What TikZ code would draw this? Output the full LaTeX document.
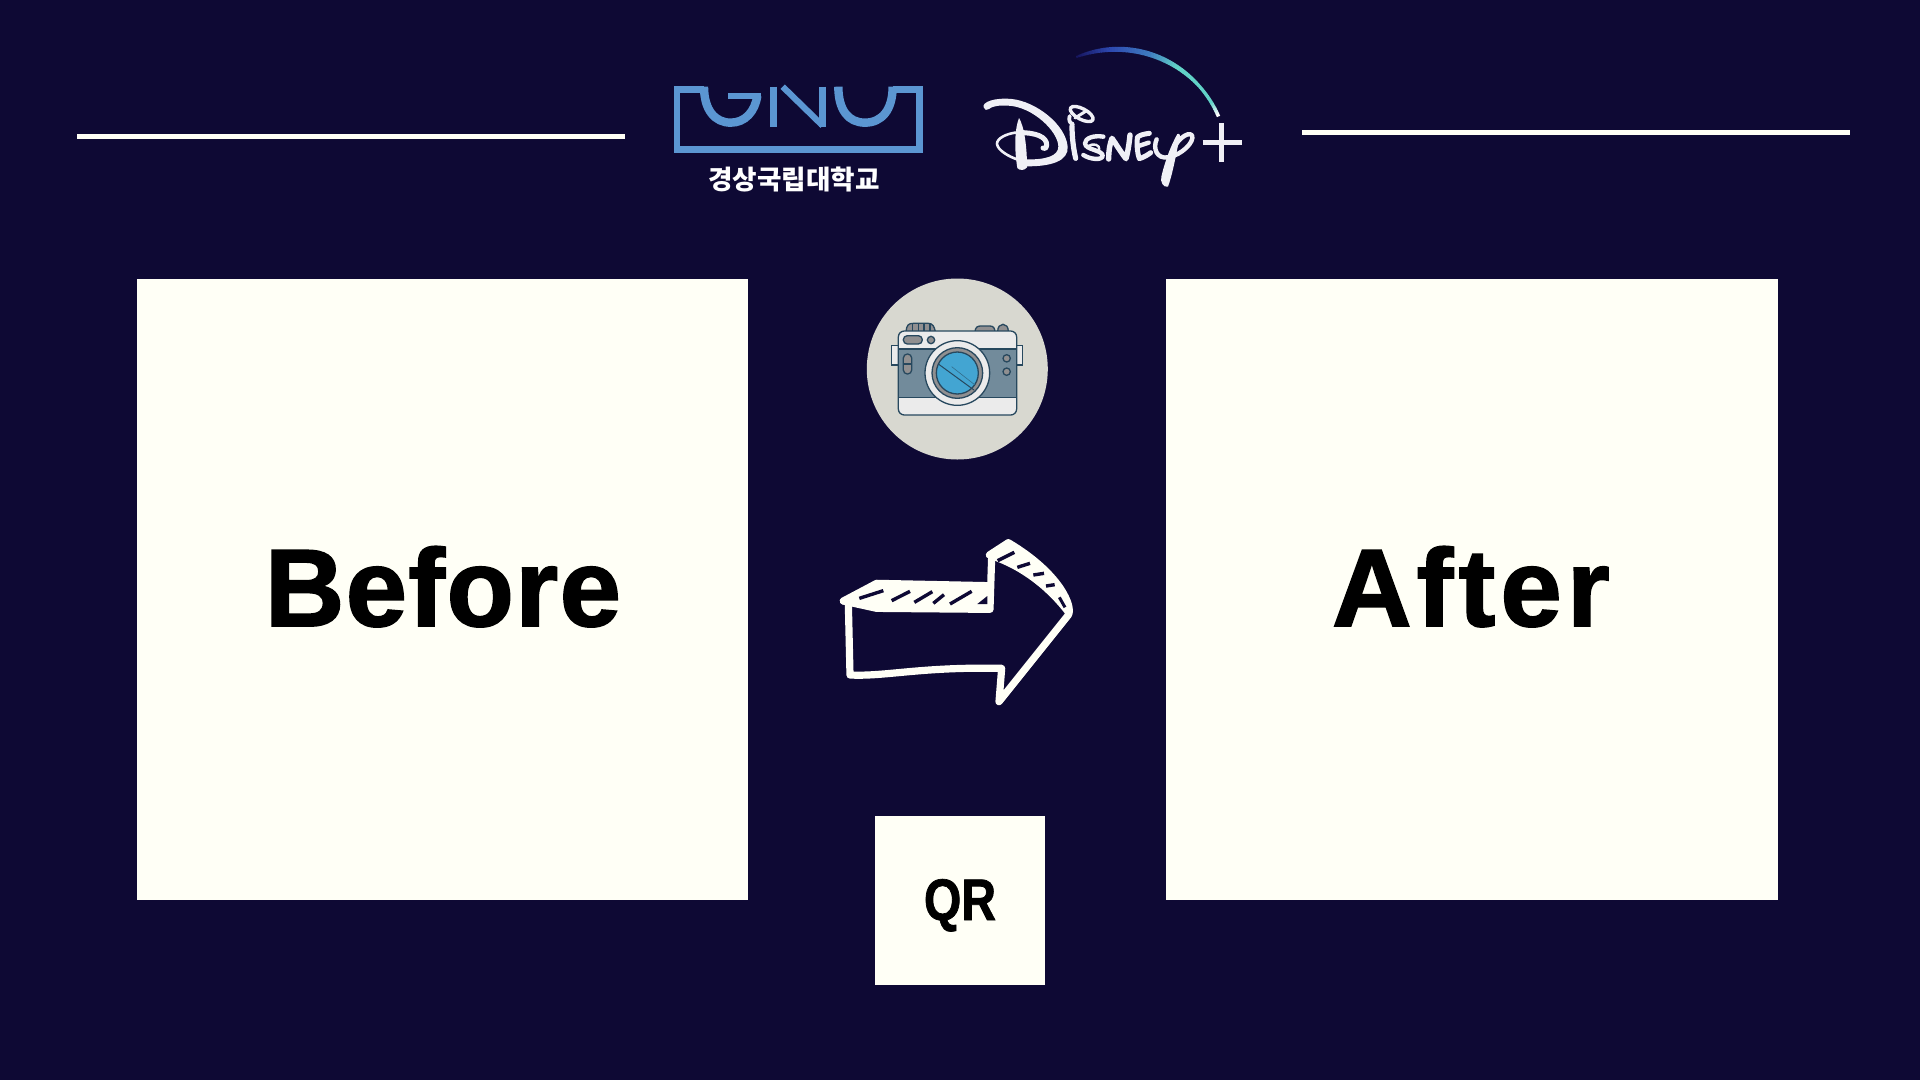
\documentclass[tikz,border=0pt]{standalone}
\usepackage{fontspec}
\setmainfont{Liberation Sans}
\newfontfamily\krfont{Noto Sans CJK KR}
\newfontfamily\beforefont{Liberation Sans}[LetterSpace=1.4,BoldFeatures={FakeBold=1.6}]
\newfontfamily\afterfont{Liberation Sans}[LetterSpace=4.8,BoldFeatures={FakeBold=1.6}]
\newfontfamily\qrfont{Liberation Sans}[FakeStretch=0.82,BoldFeatures={FakeBold=1.2}]
\definecolor{bgc}{HTML}{0E0934}
\definecolor{paper}{HTML}{FFFFF6}
\definecolor{gnublue}{HTML}{5B96D2}
\definecolor{dis}{HTML}{F0F0F6}
\definecolor{camline}{HTML}{27485E}
\definecolor{camgray}{HTML}{908F90}
\definecolor{camband}{HTML}{728B9B}
\definecolor{camwhite}{HTML}{EBEBEB}
\definecolor{camblue}{HTML}{43A5D2}
\definecolor{circ}{HTML}{D8D8D0}
\definecolor{arcA}{HTML}{171660}
\definecolor{arcB}{HTML}{2D48B0}
\definecolor{arcC}{HTML}{3F7CC0}
\definecolor{arcD}{HTML}{62D3C8}
\tikzset{
  card/.style={fill=paper,draw=none,inner sep=0pt,outer sep=0pt},
  rulewhite/.style={draw=paper,line width=4.6pt},
  gnu/.style={draw=gnublue,line width=6.4pt,line join=miter},
  gnucurve/.style={draw=gnublue,line width=8.4pt},
  ds/.style={draw=dis,line cap=round,line join=round},
  cam/.style={draw=camline,line width=1.3pt},
  ar/.style={draw=paper,line width=7.2pt,line cap=round,line join=round},
  sliver/.style={draw=bgc,line width=3.4pt,line cap=butt}
}
\begin{document}
\begin{tikzpicture}[x=1pt,y=-1pt]
\useasboundingbox (0,0) rectangle (1920,1080);
\fill[bgc] (0,0) rectangle (1920,1080);
% rules
\coordinate (l1) at (77,136.3); \coordinate (l2) at (625,136.3);
\coordinate (r1) at (1302,132.5); \coordinate (r2) at (1850,132.5);
\draw[rulewhite] (l1) -- (l2);
\draw[rulewhite] (r1) -- (r2);
% cards
\fill[card] (136.7,278.8) rectangle (748.3,900);
\fill[card] (1166,278.8) rectangle (1777.5,900);
\fill[card] (875,815.7) rectangle (1045,985);
\node[anchor=base,inner sep=0pt,font=\beforefont\fontsize{110}{120}\selectfont\bfseries] (before) at (443,626) {Before};
\node[anchor=base,inner sep=0pt,font=\afterfont\fontsize{110}{120}\selectfont\bfseries] (after) at (1471,626) {After};
\node[anchor=base,inner sep=0pt,font=\qrfont\fontsize{58.6}{70}\selectfont\bfseries] (qr) at (960,920) {QR};
% GNU logo
\begin{scope}[shift={(660,75)},x=.33333pt,y=-.33333pt]
\draw[gnu] (132,44) -- (51,44) -- (51,223) -- (778,223) -- (778,44) -- (698,44);
\draw[gnucurve] (698,35) .. controls (698,105) and (665,143) .. (615,143)
  .. controls (565,143) and (535,105) .. (535,35);
\draw[gnucurve] (132,35) .. controls (132,105) and (165,143) .. (212,143)
  .. controls (255,143) and (285,110) .. (292,62);
\draw[gnu] (205,63) -- (303,63);
\draw[gnu,line width=6.6pt] (340,35) -- (340,155);
\draw[gnu,line width=6.6pt] (488,35) -- (488,155);
\draw[gnu,line width=6.2pt] (368,35) -- (488,152);
\node[inner sep=0pt,text=white,font=\krfont\fontsize{26.6}{28}\selectfont\bfseries] (kr) at (402,312) {경상국립대학교};
\end{scope}
% Disney arc
\foreach \i in {0,...,59}{
  \pgfmathsetmacro{\t}{\i/59}
  \pgfmathsetmacro{\thA}{111.6-\i*88.3/60}
  \pgfmathsetmacro{\thB}{111.6-(\i+1.15)*88.3/60}
  \pgfmathsetmacro{\xa}{1116.9+110.47*cos(\thA)}
  \pgfmathsetmacro{\ya}{159.77-110.47*sin(\thA)}
  \pgfmathsetmacro{\xb}{1116.9+110.47*cos(\thB)}
  \pgfmathsetmacro{\yb}{159.77-110.47*sin(\thB)}
  \pgfmathsetmacro{\w}{2+2.8*sin(180*min(\t*1.25,1)^0.8)+1.5*\t}
  \pgfmathparse{\t<.2?100*\t/.2:(\t<.44?100*(\t-.2)/.24:(\t<.62?100*(\t-.44)/.18:(\t<.92?100*(\t-.62)/.3:100*(\t-.92)/.08)))}
  \let\p\pgfmathresult
  \ifdim\t pt<.2pt \colorlet{cc}{arcB!\p!arcA}\else
  \ifdim\t pt<.44pt \colorlet{cc}{arcC!\p!arcB}\else
  \ifdim\t pt<.62pt \colorlet{cc}{arcD!\p!arcC}\else
  \ifdim\t pt<.92pt \colorlet{cc}{arcD!\p!arcD}\else
  \colorlet{cc}{white!\p!arcD}\fi\fi\fi\fi
  \draw[cc,line width=\w pt] (\xa,\ya) -- (\xb,\yb);
}
% Disney D
\begin{scope}[shift={(975,90)},x=.33333pt,y=-.33333pt]
\fill[dis] (26,52) .. controls (20,36) and (60,22) .. (110,27)
  .. controls (182,34) and (272,103) .. (278,170)
  .. controls (281,212) and (232,230) .. (150,229) -- (150,208)
  .. controls (212,210) and (250,198) .. (250,170)
  .. controls (250,124) and (172,50) .. (100,47)
  .. controls (72,45) and (50,49) .. (42,57) .. controls (36,63) and (28,60) .. (26,52) -- cycle;
\fill[dis] (132,84) .. controls (148,110) and (156,170) .. (156,232)
  .. controls (150,242) and (132,242) .. (127,234)
  .. controls (118,180) and (118,120) .. (132,84) -- cycle;
\draw[ds,line width=2.6pt] (128,127) .. controls (95,130) and (65,145) .. (66,162)
  .. controls (68,180) and (100,200) .. (132,210);
\draw[ds,line width=5pt] (132,128) .. controls (180,127) and (216,140) .. (215,165)
  .. controls (214,176) and (208,178) .. (204,174);
% i
\draw[ds,line width=5.2pt] (291,108) .. controls (291,140) and (295,175) .. (302,205);
\draw[ds,line width=3.4pt,rotate around={-28:(320,72)}] (320,72) ellipse [x radius=38,y radius=16];
\draw[ds,line width=3pt] (300,84) -- (335,62);
\draw[ds,line width=3.8pt] (284,78) .. controls (280,92) and (285,100) .. (294,102);
\end{scope}
% Disney rest
\begin{scope}[shift={(1060,100)},x=.33333pt,y=-.33333pt]
\draw[ds,line width=4.4pt] (130,110) .. controls (100,105) and (75,115) .. (75,130)
  .. controls (75,150) and (130,150) .. (128,168)
  .. controls (125,182) and (90,178) .. (70,165);
\draw[ds,line width=2.4pt] (85,138) .. controls (100,128) and (120,135) .. (118,148);
\draw[ds,line width=5.4pt] (146,177) .. controls (146,150) and (150,130) .. (156,115)
  .. controls (170,135) and (185,160) .. (198,176)
  .. controls (205,150) and (208,125) .. (210,105);
\draw[ds,line width=5pt] (268,100) .. controls (250,102) and (238,106) .. (232,112)
  .. controls (230,135) and (232,160) .. (238,176)
  .. controls (250,172) and (262,166) .. (272,158);
\draw[ds,line width=4.4pt] (236,138) -- (266,128);
\fill[dis] (352,102) .. controls (360,100) and (362,106) .. (358,116)
  .. controls (347,170) and (337,225) .. (324,260)
  .. controls (310,264) and (300,245) .. (304,230)
  .. controls (313,190) and (333,135) .. (352,102) -- cycle;
\draw[ds,line width=4.4pt] (290,118) .. controls (278,145) and (290,178) .. (325,172)
  .. controls (365,165) and (405,125) .. (396,106)
  .. controls (385,92) and (345,120) .. (330,170);
\draw[ds,line width=4.4pt,line cap=butt] (428,128) -- (545,128);
\draw[ds,line width=4.4pt,line cap=butt] (484,70) -- (484,185);
\end{scope}
% camera
\node[circle,fill=circ,draw=none,minimum size=181pt,inner sep=0pt] (camcirc) at (957.3,369) {};
\begin{scope}[shift={(850,270)},x=.33333pt,y=-.33333pt]
\draw[cam,fill=camgray] (168,185) .. controls (170,165) and (175,160) .. (190,160) -- (235,160) .. controls (248,160) and (253,170) .. (256,185) -- cycle;
\draw[cam] (188,160) -- (188,183) (205,160) -- (205,183) (222,160) -- (222,183) (240,160) -- (240,183);
\draw[cam,fill=camgray] (375,185) .. controls (376,172) and (382,168) .. (392,168) -- (420,168) .. controls (430,168) and (434,174) .. (435,185) -- cycle;
\draw[cam,fill=camgray] (443,185) .. controls (443,170) and (450,163) .. (459,163) .. controls (468,163) and (475,170) .. (475,185) -- cycle;
\draw[cam,fill=camwhite] (125,226) rectangle (145,285);
\draw[cam,fill=camwhite] (500,226) rectangle (518,285);
\draw[cam,fill=camwhite,rounded corners=6pt] (145,183) rectangle (500,435);
\draw[cam,fill=camband] (145,237) rectangle (500,382);
\draw[cam,fill=camgray,rounded corners=4pt] (160,197) rectangle (217,222);
\draw[cam,fill=camgray] (243,210) circle [radius=11];
\draw[cam,fill=camgray,rounded corners=4pt] (160,252) rectangle (185,312);
\draw[cam] (160,282) -- (185,282);
\draw[cam,fill=camgray] (470,265) circle [radius=11];
\draw[cam,fill=camgray] (470,305) circle [radius=11];
\draw[cam,fill=camwhite] (322,309) circle [radius=97];
\draw[cam,fill=camgray] (322,309) circle [radius=76];
\draw[cam,fill=camblue] (322,309) circle [radius=63];
\draw[cam,line width=1pt] (265,282) -- (372,360);
\draw[camline!60!camblue,line width=.6pt] (305,290) -- (375,345);
\end{scope}
% hand-drawn arrow
\begin{scope}[shift={(820,520)},x=.33333pt,y=-.33333pt]
\fill[paper] (70,243) -- (170,190) -- (510,197) -- (510,268) -- (170,265) -- cycle;
\fill[paper] (512,108) -- (565,68) .. controls (650,120) and (740,200) .. (752,270) -- (738,285) .. controls (690,220) and (610,150) .. (512,118) -- cycle;
\draw[ar] (70,243) -- (170,190) -- (505,197);
\draw[ar] (70,243) -- (170,265) -- (510,268);
\draw[ar] (515,110) -- (510,265);
\draw[ar] (85,250) -- (90,465) .. controls (200,470) and (300,440) .. (545,445) -- (537,545)
  -- (745,285) .. controls (760,260) and (720,160) .. (565,68) -- (508,105);
\draw[sliver] (118,235) -- (190,212);
\draw[sliver] (215,242) -- (270,214);
\draw[sliver] (283,247) -- (337,215);
\draw[sliver] (340,250) -- (372,224);
\draw[sliver] (390,252) -- (455,214);
\fill[bgc] (472,252) -- (502,252) -- (502,228) -- cycle;
\draw[sliver] (533,122) -- (583,97);
\draw[sliver] (592,142) -- (630,130);
\draw[sliver] (640,165) -- (672,160);
\draw[sliver] (678,198) -- (704,194);
\draw[sliver,line width=3pt] (718,232) -- (735,262);
\end{scope}
\end{tikzpicture}
\end{document}
